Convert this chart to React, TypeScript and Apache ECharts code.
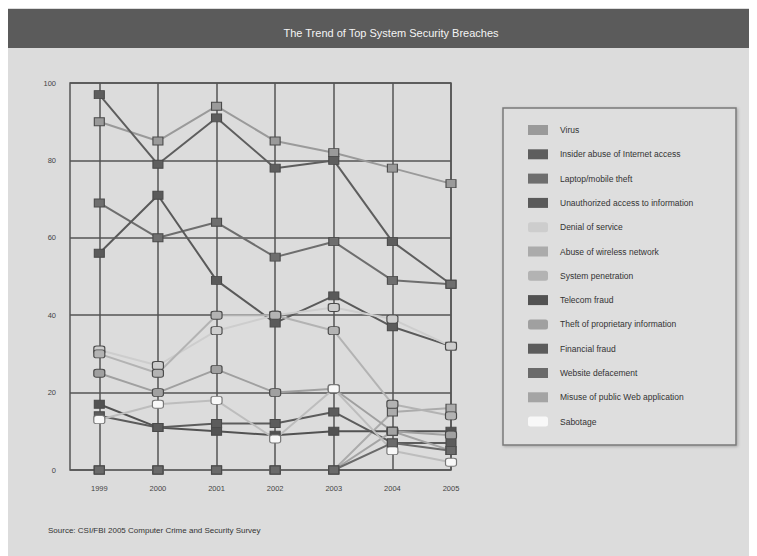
import React, { useEffect, useRef } from "react";
import * as echarts from "echarts";

const years = [1999, 2000, 2001, 2002, 2003, 2004, 2005];
const yTicks = [0, 20, 40, 60, 80, 100];

const seriesNames = [
  "Virus",
  "Insider abuse of Internet access",
  "Laptop/mobile theft",
  "Unauthorized access to information",
  "Denial of service",
  "Abuse of wireless network",
  "System penetration",
  "Telecom fraud",
  "Theft of proprietary information",
  "Financial fraud",
  "Website defacement",
  "Misuse of public Web application",
  "Sabotage",
];

const virus = [90, 85, 94, 85, 82, 78, 74];
const insiderAbuse = [97, 79, 91, 78, 80, 59, 48];
const laptopTheft = [69, 60, 64, 55, 59, 49, 48];
const unauthorizedAccess = [56, 71, 49, 38, 45, 37, 32];
const denialOfService = [31, 27, 36, 40, 42, 39, 32];
const wirelessAbuse = [0, 0, 0, 0, 0, 15, 16];
const systemPenetration = [30, 25, 40, 40, 36, 17, 14];
const telecomFraud = [17, 11, 10, 9, 10, 10, 10];
const theftProprietary = [25, 20, 26, 20, 21, 10, 9];
const financialFraud = [14, 11, 12, 12, 15, 7, 7];
const websiteDefacement = [0, 0, 0, 0, 0, 7, 5];
const webAppMisuse = [0, 0, 0, 0, 0, 10, 5];
const sabotage = [13, 17, 18, 8, 21, 5, 2];

const seriesValues = [
  virus,
  insiderAbuse,
  laptopTheft,
  unauthorizedAccess,
  denialOfService,
  wirelessAbuse,
  systemPenetration,
  telecomFraud,
  theftProprietary,
  financialFraud,
  websiteDefacement,
  webAppMisuse,
  sabotage,
];

const colors = [
  "#9a9a9a",
  "#5e5e5e",
  "#6e6e6e",
  "#5a5a5a",
  "#cdcdcd",
  "#ababab",
  "#b3b3b3",
  "#525252",
  "#a0a0a0",
  "#5c5c5c",
  "#6a6a6a",
  "#a4a4a4",
  "#f8f8f8",
];

const roundish = [false, false, false, false, true, false, true, false, true, false, false, false, true];

const title = "The Trend of Top System Security Breaches";
const source = "Source: CSI/FBI 2005 Computer Crime and Security Survey";

export default function App() {
  const ref = useRef<HTMLDivElement>(null);
  useEffect(() => {
    if (!ref.current) return;
    const chart = echarts.init(ref.current, null, { renderer: "svg" });
    const font = "'Liberation Sans', Arial, sans-serif";
    const series = seriesNames.map((name, i) => ({
      name,
      type: "line",
      z: i === 10 ? 4 : 2,
      data: seriesValues[i].map((v, j) => [years[j], v]),
      symbol: roundish[i] ? "roundRect" : "rect",
      symbolSize: roundish[i] ? [11, 8] : [10, 8],
      showAllSymbol: true,
      itemStyle: { color: colors[i], borderColor: i === 12 ? "#777" : "#4a4a4a", borderWidth: 1 },
      lineStyle: { color: colors[i] === "#f8f8f8" ? "#bdbdbd" : colors[i], width: 2 },
      emphasis: { disabled: true },
    }));
    chart.setOption({
      animation: false,
      backgroundColor: "#dcdcdc",
      textStyle: { fontFamily: font },
      grid: {
        left: 62,
        top: 75,
        right: 306,
        bottom: 86,
        show: true,
        borderColor: "#555",
        borderWidth: 1.5,
        backgroundColor: "transparent",
      },
      xAxis: {
        type: "value",
        min: 1998.5,
        max: 2005,
        axisLine: { show: false },
        axisTick: { show: false, customValues: years },
        axisLabel: {
          customValues: years,
          formatter: (v: number) => String(v),
          color: "#444",
          fontSize: 7.5,
          margin: 14,
          fontFamily: font,
        },
        splitLine: { show: true, lineStyle: { color: "#555", width: 1.5 } },
      },
      yAxis: {
        type: "value",
        min: 0,
        max: 100,
        interval: 20,
        axisLine: { show: false },
        axisTick: { show: false },
        axisLabel: { color: "#444", fontSize: 7.5, margin: 14, fontFamily: font },
        splitLine: { show: true, lineStyle: { color: "#555", width: 1.5 } },
      },
      legend: {
        orient: "vertical",
        left: 515,
        top: 112,
        itemWidth: 20,
        itemHeight: 10,
        itemGap: 14.3,
        selectedMode: false,
        data: seriesNames.map((n, i) => ({
          name: n,
          icon: roundish[i] ? "roundRect" : "rect",
          itemStyle: { color: colors[i], borderWidth: 0 },
        })),
        textStyle: { color: "#333", fontSize: 8.5, fontFamily: font, padding: [0, 0, 0, 7] },
      },
      graphic: [
        {
          type: "rect",
          shape: { x: 0, y: 1, width: 749, height: 39 },
          style: { fill: "#5b5b5b" },
          z: -1,
        },
        {
          type: "text",
          x: 383,
          y: 25,
          style: {
            text: title,
            fill: "#f4f4f4",
            fontSize: 11,
            fontFamily: font,
            textAlign: "center",
            textVerticalAlign: "middle",
          },
        },
        {
          type: "rect",
          shape: { x: 495, y: 100, width: 233, height: 337 },
          style: {
            fill: "#dedede",
            stroke: "#7a7a7a",
            lineWidth: 1.5,
            shadowBlur: 3,
            shadowColor: "rgba(0,0,0,0.25)",
            shadowOffsetX: 1,
            shadowOffsetY: 1,
          },
          z: -1,
        },
        {
          type: "text",
          x: 40,
          y: 522,
          style: {
            text: source,
            fill: "#333",
            fontSize: 8,
            fontFamily: font,
            textVerticalAlign: "middle",
          },
        },
      ],
      series,
    });
    return () => chart.dispose();
  }, []);
  return <div ref={ref} style={{ width: 749, height: 548 }} />;
}
